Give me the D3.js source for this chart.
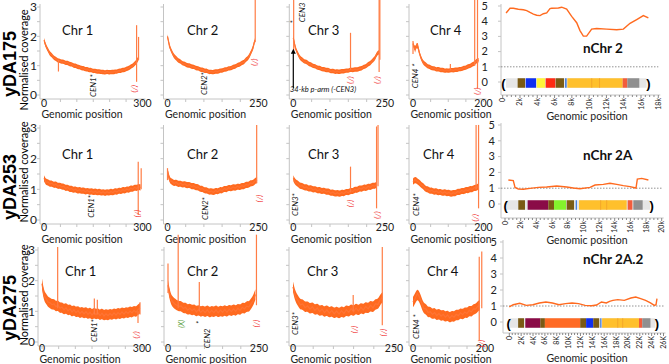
<!DOCTYPE html>
<html>
<head>
<meta charset="utf-8">
<script src="https://cdn.jsdelivr.net/npm/d3@7"></script>
<style>
body { margin: 0; background: #fff; }
text { font-family: Lato, "Open Sans", sans-serif; }
</style>
</head>
<body>
<script>
// ////////// Datas ////////////
var strains = ["yDA175", "yDA253", "yDA275"];
var chrNames = ["Chr 1", "Chr 2", "Chr 3", "Chr 4"];
var chrTickMax = [300, 250, 250, 200];
var covStep = 6; // kb zwischen zwei Werten

// normalised coverage, one value every 6 kb
var cov175 = [
  [1.87,1.66,1.54,1.40,1.36,1.26,1.24,1.17,1.17,1.13,1.14,1.08,1.11,1.04,1.06,0.99,1.01,0.95,0.96,0.91,0.92,0.87,0.89,0.84,0.86,0.81,0.83,0.79,0.81,0.78,0.79,0.76,0.80,0.77,0.78,0.78,0.80,0.79,0.83,0.82,0.86,0.85,0.90,0.91,0.97,0.99,1.07,1.13,1.26],
  [2.00,1.63,1.47,1.31,1.26,1.16,1.15,1.06,1.07,1.00,1.02,0.96,0.97,0.91,0.92,0.86,0.87,0.81,0.84,0.77,0.80,0.77,0.81,0.79,0.84,0.82,0.88,0.86,0.92,0.90,0.97,0.96,1.03,1.03,1.10,1.11,1.22,1.26,1.42,1.56,1.87],
  [1.95,1.58,1.42,1.26,1.22,1.13,1.14,1.05,1.05,0.98,0.99,0.92,0.93,0.87,0.89,0.84,0.86,0.80,0.83,0.78,0.81,0.78,0.82,0.80,0.84,0.82,0.87,0.84,0.88,0.86,0.90,0.90,0.97,0.97,1.06,1.08,1.18,1.23,1.42,1.46],
  [1.75,1.52,1.77,1.43,1.22,1.08,1.05,0.96,0.97,0.90,0.92,0.86,0.89,0.84,0.86,0.82,0.85,0.82,0.86,0.83,0.87,0.85,0.89,0.88,0.93,0.92,0.98,0.98,1.05,1.06,1.16,1.19]
];
var cov253 = [
  [1.36,1.23,1.24,1.17,1.20,1.13,1.17,1.10,1.13,1.08,1.10,1.03,1.07,1.00,1.03,0.97,1.01,0.95,0.99,0.94,0.97,0.92,0.96,0.91,0.95,0.90,0.94,0.89,0.93,0.88,0.92,0.87,0.92,0.88,0.93,0.89,0.95,0.91,0.97,0.93,0.99,0.95,1.01,0.97,1.04,1.00,1.07,1.03,1.09,1.06],
  [1.60,1.28,1.26,1.19,1.23,1.16,1.20,1.14,1.18,1.12,1.16,1.09,1.12,1.06,1.08,1.00,1.03,0.95,0.98,0.91,0.95,0.90,0.96,0.92,0.99,0.95,1.03,0.99,1.06,1.02,1.08,1.04,1.10,1.06,1.12,1.09,1.16,1.13,1.21,1.19,1.27,1.30],
  [1.36,1.22,1.20,1.10,1.12,1.05,1.08,1.01,1.05,0.98,1.02,0.95,0.99,0.93,0.97,0.91,0.94,0.87,0.91,0.85,0.89,0.84,0.90,0.86,0.93,0.89,0.96,0.93,1.00,0.97,1.04,1.01,1.07,1.03,1.10,1.06,1.13,1.10,1.17],
  [1.25,1.32,1.26,1.22,1.13,1.10,1.00,1.01,0.94,0.97,0.91,0.95,0.89,0.93,0.87,0.92,0.86,0.90,0.84,0.89,0.86,0.93,0.90,0.96,0.93,0.99,0.96,1.02,0.99,1.06,1.04,1.11]
];
var cov275 = [
  [1.90,1.50,1.42,1.30,1.28,1.22,1.24,1.15,1.20,1.10,1.14,1.05,1.12,1.02,1.08,0.98,1.05,0.96,1.02,0.93,1.00,0.92,0.99,0.90,0.97,0.88,0.96,0.89,0.95,0.86,0.94,0.85,0.92,0.86,0.93,0.87,0.95,0.88,0.96,0.90,0.98,0.91,0.99,0.93,1.01,0.95,1.03,0.97,1.06,1.10],
  [1.85,1.45,1.32,1.25,1.20,1.16,1.18,1.09,1.13,1.04,1.10,1.02,1.08,0.98,1.06,0.97,1.04,0.96,1.05,0.95,1.03,0.96,1.05,0.95,1.04,0.97,1.06,0.97,1.07,0.99,1.08,1.00,1.10,1.03,1.13,1.08,1.17,1.14,1.25,1.35,1.55],
  [1.80,1.47,1.36,1.21,1.24,1.12,1.18,1.07,1.15,1.03,1.11,0.99,1.07,0.96,1.05,0.94,1.03,0.92,1.01,0.91,1.02,0.93,1.05,0.97,1.09,0.99,1.11,1.01,1.13,1.04,1.16,1.08,1.20,1.11,1.25,1.22,1.38,1.47],
  [1.30,1.42,1.58,1.46,1.27,1.09,1.08,0.96,0.99,0.90,0.96,0.86,0.93,0.84,0.90,0.81,0.88,0.78,0.86,0.81,0.90,0.86,0.95,0.89,0.98,0.93,1.03,0.98,1.08,1.07,1.17,1.20]
];
var covAll = [cov175, cov253, cov275];
var bandHalf = [0.075, 0.1, 0.17]; // Rauschbreite je Stamm

// spikes: [kb, top, bottom]
var spikes175 = [
  [[282,2.38,0.45],[288,1.98,1.2],[44,1.2,0.8]],
  [[241,3.3,1.8]],
  [[1,3.3,1.5],[156,2.12,0.85],[234,3.3,0.78],[236,3.3,1.2]],
  [[0,1.84,1.4],[106,1.06,0.84],[175,3.3,1.0],[183,3.3,0.22]]
];
var spikes253 = [
  [[287,1.9,0.16],[296,1.69,1.0]],
  [[0,1.69,1.3],[245,3.1,1.2]],
  [[156,1.74,0.9],[227,3.05,0.38],[231,3.1,1.1]],
  [[179,3.1,1.0],[186,3.1,0.38]]
];
var spikes275 = [
  [[47,3.1,1.1],[157,1.42,0.9],[166,1.38,0.9],[288,1.0,0.62],[294,1.3,0.9]],
  [[0,2.56,1.6],[28,3.5,1.1],[86,1.96,1.0],[243,3.5,1.2]],
  [[149,1.53,1.0],[221,3.1,0.55]],
  [[184,2.78,0.05],[191,2.95,1.1]]
];
var spikesAll = [spikes175, spikes253, spikes275];

// centromere labels: [row, col, kb, value, text]
var cenLabels = [
  [0,0,158,-0.07,"CEN1*"],[0,1,108.5,0,"CEN2*"],[0,2,32,2.48,"CEN3"],[0,2,7.4,2.44,"*"],[0,3,14,0.23,"CEN4 *"],
  [1,0,152,0.07,"CEN1*"],[1,1,111,0,"CEN2*"],[1,2,12.8,0.13,"CEN3*"],[1,3,17,0.13,"CEN4*"],
  [2,0,165,0,"CEN1*"],[2,1,115,-0.2,"CEN2"],[2,1,93,0.59,"*"],[2,2,12.4,0.23,"CEN3*"],[2,3,16.7,0.1,"CEN4 *"]
];
// rote Markierungen: [row, col, kb, value]
var redMarks = [
  [0,0,276,0.21],[0,1,240,1.12],[0,2,156,0.51],[0,2,229.6,0.51],[0,3,183,0.13],
  [1,0,285,0.21],[1,1,253,0.7],[1,2,156,0.54],[1,2,229.6,0.16],[1,3,177,0.07],
  [2,0,283.5,0.23],[2,1,243,0.6],[2,2,153.5,0.41],[2,2,226,0.31],[2,3,190.4,-0.05]
];
var greenMarks = [[2,1,37,0.59,"(X)"]];
var armArrow = [0, 0.23, 1.58]; // kb, from, to
var armText = [-9, 0.1, "34-kb p-arm (-CEN3)"];

// neochromosomes
var nTitles = ["nChr 2", "nChr 2A", "nChr 2A.2"];
var nKmax = [18, 20, 26];
var nSuffix = ["k", "k", "K"];
var nPos = [
  [0.39,0.85,1.23,1.81,2.39,2.78,3.16,3.55,3.93,4.32,4.70,5.09,5.47,5.67,6.44,6.82,7.40,7.98,8.56,8.94,9.33,9.71,10.29,10.87,12.03,13.18,13.96,14.73,15.50,16.27,16.85],
  [0.43,1.06,1.28,1.70,2.34,3.19,4.26,5.32,6.60,7.87,8.72,9.57,10.85,11.49,12.55,13.40,14.26,15.10,15.96,16.72,16.89,17.45,18.30],
  [0,0.66,1.76,2.87,3.97,5.07,6.17,7.27,8.37,9.48,10.58,11.68,12.78,13.88,14.71,15.54,16.36,16.91,17.47,18.29,19.39,20.50,21.32,22.15,22.98,23.80,24.46,24.74,24.90]
];
var nCov = [
  [4.54,4.85,4.85,4.79,4.75,4.70,4.58,4.47,4.39,4.37,4.49,4.54,4.83,4.85,4.87,4.92,4.79,4.32,3.90,3.38,3.02,3.02,3.48,3.52,3.48,3.44,3.48,3.86,4.11,4.37,4.22],
  [1.52,1.48,1.05,0.95,0.93,0.99,1.05,1.08,1.14,1.08,1.01,0.97,1.05,1.20,1.24,1.31,1.24,1.16,1.10,1.01,1.58,1.62,1.52],
  [0.94,1.08,1.17,1.04,1.08,1.19,1.25,1.19,1.08,1.15,1.19,1.15,1.04,1.02,1.06,1.25,1.19,1.29,1.35,1.40,1.35,1.50,1.56,1.46,1.35,1.19,1.04,1.08,1.46]
];
var nSegs = [
  [[0.39,16.65,"bg"],[1.73,2.58,"brown"],[2.66,3.86,"blue"],[3.93,4.9,"yellow"],[4.97,6.09,"red"],[6.13,7.09,"brown"],[7.21,7.4,"lblue"],[7.48,13.88,"gold"],[13.88,14.42,"rorange"],[14.42,15.8,"grey"]],
  [[0.21,18.51,"bg"],[1.7,2.55,"brown"],[2.89,5.53,"maroon"],[5.53,6.26,"brown"],[6.26,7.79,"green"],[7.87,8.81,"brown"],[9.02,9.19,"lblue"],[9.45,15.53,"gold"],[15.66,16.26,"rorange"],[16.38,17.57,"grey"]],
  [[0.11,24.63,"bg"],[1.49,2.48,"brown"],[2.7,5.23,"maroon"],[5.23,6.0,"brown"],[6.0,11.96,"orange"],[11.96,12.95,"brown"],[12.95,14.16,"blue"],[14.16,15.15,"brown"],[15.32,15.54,"lblue"],[15.65,21.87,"gold"],[21.87,22.42,"rorange"],[22.42,23.8,"grey"]]
];
var nGoldLines = [[10.3,11.2],[12.21,12.98],[18.29,19.12]];
var nEnds = [[0.08,16.85],[0.09,18.72],[-0.1,24.9]];

// ////////// Layout ////////////
var segColors = {bg:"#e6e6e6", brown:"#7a5a14", blue:"#1030f0", yellow:"#fff53a", red:"#ff2a12", lblue:"#4a7fdc",
  gold:"#ffc02c", rorange:"#f25c3c", grey:"#8f8f8f", maroon:"#8a0b47", green:"#84f22c", orange:"#ff6a24"};
var orange = "#ff6a1f";
var axisGrey = "#c4c4c4";

var rows = [
  {yTop: 7,   yZero: 95,  cols: [[44,142.5],[167.5,258.5],[293.3,385],[413,483.5]], chrX: [62,187,308,430], chrY: 35,  tickY: 107, titleY: 118, nameY: 64,  ncY: 60},
  {yTop: 128, yZero: 220, cols: [[44,142.5],[167.5,258.5],[293.3,385],[413,483.5]], chrX: [62,187,308,423], chrY: 159, tickY: 231, titleY: 243, nameY: 187, ncY: 172},
  {yTop: 250, yZero: 342, cols: [[42,142],[168,259],[293,394],[413,485]],             chrX: [65,187,307,427], chrY: 276, tickY: 352, titleY: 363, nameY: 308, ncY: 295}
];
var nRows = [
  {axisX: 501, yZero: 82,  yFive: 6,   xZero: 502.7, xEnd: 658.3, axisY: 95,  labX: 488, titleY: 53,  gpY: 120},
  {axisX: 501, yZero: 204, yFive: 125, xZero: 505,   xEnd: 661.7, axisY: 218, labX: 495, titleY: 160, gpY: 244},
  {axisX: 503, yZero: 322, yFive: 242, xZero: 509.3, xEnd: 663.5, axisY: 333, labX: 497, titleY: 264, gpY: 362}
];

var svg = d3.select("body").append("svg")
  .attr("width", 669)
  .attr("height", 364);

function rotText(g, x, y, txt, rot) {
  return g.append("text")
    .attr("transform", "translate(" + x + "," + y + ") rotate(" + rot + ")")
    .text(txt);
}

var xScales = [], yScales = [];

// //////////// coverage panels /////////////
rows.forEach(function(L, r) {
  var y = d3.scaleLinear().domain([0, 3]).range([L.yZero, L.yTop]);
  yScales.push(y);
  xScales.push([]);

  // Stamm und Achsentitel
  rotText(svg, 16, L.nameY, strains[r], -90)
    .attr("text-anchor", "middle")
    .style("font-family", "'Liberation Sans', Arial, sans-serif")
    .style("font-weight", "bold")
    .style("font-size", "18px");
  rotText(svg, 28, L.ncY, "Normalised coverage", -90)
    .attr("text-anchor", "middle")
    .style("font-size", "11px");

  L.cols.forEach(function(c, ci) {
    var x = d3.scaleLinear().domain([0, chrTickMax[ci]]).range(c);
    xScales[r].push(x);
    var g = svg.append("g");
    var axY = L.yZero + 4, axX = c[0] - 4;

    g.append("line").attr("x1", axX).attr("x2", axX).attr("y1", L.yTop - 3).attr("y2", axY)
      .attr("stroke", axisGrey);
    g.append("line").attr("x1", axX).attr("x2", c[1] + 3).attr("y1", axY).attr("y2", axY)
      .attr("stroke", axisGrey);
    d3.range(0, 3.01, 0.5).forEach(function(v) {
      g.append("line").attr("x1", axX - 3).attr("x2", axX).attr("y1", y(v)).attr("y2", y(v))
        .attr("stroke", axisGrey);
    });
    d3.range(0, chrTickMax[ci] + 1, 50).forEach(function(v) {
      g.append("line").attr("x1", x(v)).attr("x2", x(v)).attr("y1", axY).attr("y2", axY + 3)
        .attr("stroke", axisGrey);
    });
    if (ci == 0) {
      [0, 1, 2, 3].forEach(function(v) {
        g.append("text").attr("x", axX - 3).attr("y", y(v)).attr("dy", "0.35em")
          .attr("text-anchor", "end").style("font-size", "12px").attr("fill", "#222").text(v);
      });
    }
    [0, chrTickMax[ci]].forEach(function(v) {
      g.append("text").attr("x", x(v)).attr("y", L.tickY).attr("text-anchor", "middle")
        .style("font-size", "10.5px").attr("fill", "#222").text(v);
    });
    g.append("text").attr("x", c[0] + 38).attr("y", L.titleY).attr("text-anchor", "middle")
      .style("font-size", "10.5px").attr("fill", "#222").text("Genomic position");

    // Daten: geglaettetes Band + Rauschlinie
    var area = d3.area()
      .curve(d3.curveBasis)
      .x(function(d, i) { return x(i * covStep); })
      .y0(function(d) { return y(d - bandHalf[r]); })
      .y1(function(d) { return y(d + bandHalf[r]); });
    g.append("path").datum(covAll[r][ci])
      .attr("d", area)
      .attr("fill", orange);
    var noisy = d3.line()
      .x(function(d, i) { return x(i * covStep); })
      .y(function(d) { return y(d); });
    g.append("path").datum(covAll[r][ci])
      .attr("d", noisy)
      .attr("fill", "none")
      .attr("stroke", "#ff7434")
      .attr("stroke-width", 1.2);
    spikesAll[r][ci].forEach(function(s) {
      g.append("line").attr("x1", x(s[0])).attr("x2", x(s[0]))
        .attr("y1", y(s[1])).attr("y2", y(s[2]))
        .attr("stroke", "#ff7d45").attr("stroke-width", 1.2);
    });

    g.append("text").attr("x", L.chrX[ci]).attr("y", L.chrY)
      .style("font-size", "13px").attr("fill", "#111").text(chrNames[ci]);
  });
});

// //////////// Annotationen /////////////
cenLabels.forEach(function(d) {
  rotText(svg, xScales[d[0]][d[1]](d[2]), yScales[d[0]](d[3]), d[4], -90)
    .style("font-size", "8px").style("font-style", "italic").attr("fill", "#111");
});
redMarks.forEach(function(d) {
  rotText(svg, xScales[d[0]][d[1]](d[2]), yScales[d[0]](d[3]), "(/)", 90)
    .attr("text-anchor", "middle").attr("dy", "0.35em")
    .style("font-size", "8px").style("font-style", "italic").attr("fill", "#f03030");
});
greenMarks.forEach(function(d) {
  rotText(svg, xScales[d[0]][d[1]](d[2]), yScales[d[0]](d[3]), d[4], -90)
    .attr("text-anchor", "middle").attr("dy", "0.35em")
    .style("font-size", "7px").style("font-style", "italic").attr("fill", "#5aa040");
});
var ax3 = xScales[0][2](armArrow[0]);
svg.append("line").attr("x1", ax3).attr("x2", ax3)
  .attr("y1", yScales[0](armArrow[1])).attr("y2", yScales[0](armArrow[2]) + 4)
  .attr("stroke", "#000").attr("stroke-width", 1.2);
svg.append("path")
  .attr("d", "M" + (ax3 - 2.5) + "," + (yScales[0](armArrow[2]) + 5) + "L" + ax3 + "," + yScales[0](armArrow[2]) +
    "L" + (ax3 + 2.5) + "," + (yScales[0](armArrow[2]) + 5) + "Z")
  .attr("fill", "#000");
svg.append("text").attr("x", xScales[0][2](armText[0])).attr("y", yScales[0](armText[1]))
  .style("font-size", "7.5px").style("font-style", "italic").attr("fill", "#111").text(armText[2]);

// //////////// Neochromosomen /////////////
nRows.forEach(function(N, r) {
  var g = svg.append("g");
  var x = d3.scaleLinear().domain([0, nKmax[r]]).range([N.xZero, N.xEnd]);
  var y = d3.scaleLinear().domain([0, 5]).range([N.yZero, N.yFive]);

  g.append("line").attr("x1", N.axisX).attr("x2", N.axisX).attr("y1", N.yFive - 2).attr("y2", N.axisY)
    .attr("stroke", axisGrey);
  g.append("line").attr("x1", N.axisX).attr("x2", N.xEnd + 2).attr("y1", N.axisY).attr("y2", N.axisY)
    .attr("stroke", axisGrey);
  d3.range(0, 6).forEach(function(v) {
    g.append("line").attr("x1", N.axisX - 3).attr("x2", N.axisX).attr("y1", y(v)).attr("y2", y(v))
      .attr("stroke", axisGrey);
    g.append("text").attr("x", N.labX).attr("y", y(v)).attr("dy", "0.35em").attr("text-anchor", "end")
      .style("font-size", "11px").attr("fill", "#222").text(v);
  });
  d3.range(0, nKmax[r] + 0.01, 0.5).forEach(function(k) {
    g.append("line").attr("x1", x(k)).attr("x2", x(k)).attr("y1", N.axisY).attr("y2", N.axisY + (k % 2 == 0 ? 3 : 2))
      .attr("stroke", "#888");
  });
  d3.range(0, nKmax[r] + 0.01, 2).forEach(function(k) {
    rotText(g, x(k) + 2.5, N.axisY + 3, k == 0 ? "0" : k + nSuffix[r], -90)
      .attr("text-anchor", "end").style("font-size", "7px").attr("fill", "#222");
  });
  g.append("text").attr("x", 587).attr("y", N.gpY).attr("text-anchor", "middle")
    .style("font-size", "10.5px").attr("fill", "#222").text("Genomic position");

  // gepunktete Linie bei 1
  g.append("line").attr("x1", N.axisX).attr("x2", N.xEnd).attr("y1", y(1)).attr("y2", y(1))
    .attr("stroke", "#777").attr("stroke-width", 0.8).attr("stroke-dasharray", "1.5,1.5");

  // Chromosomenbalken
  var barY = y(0) + 1;
  nSegs[r].forEach(function(s) {
    g.append("rect").attr("x", x(s[0])).attr("width", x(s[1]) - x(s[0]))
      .attr("y", barY - 4.75).attr("height", 9.5).attr("fill", segColors[s[2]]);
  });
  nGoldLines[r].forEach(function(k) {
    g.append("line").attr("x1", x(k)).attr("x2", x(k)).attr("y1", barY - 4.75).attr("y2", barY + 4.75)
      .attr("stroke", "#f0a028").attr("stroke-width", 0.8);
  });
  [["(", nEnds[r][0]], [")", nEnds[r][1]]].forEach(function(e) {
    g.append("text").attr("x", x(e[1])).attr("y", barY).attr("dy", "0.35em").attr("text-anchor", "middle")
      .style("font-family", "'Liberation Sans', Arial, sans-serif")
      .style("font-weight", "bold").style("font-size", "13px").attr("fill", "#000").text(e[0]);
  });

  // Coverage-Linie
  var line = d3.line()
    .x(function(d, i) { return x(nPos[r][i]); })
    .y(function(d) { return y(d); });
  g.append("path").datum(nCov[r]).attr("d", line)
    .attr("fill", "none").attr("stroke", orange).attr("stroke-width", 1.4);

  g.append("text").attr("x", 583).attr("y", N.titleY)
    .style("font-size", "13.5px").style("font-weight", "bold").attr("fill", "#111").text(nTitles[r]);
});
</script>
</body>
</html>
